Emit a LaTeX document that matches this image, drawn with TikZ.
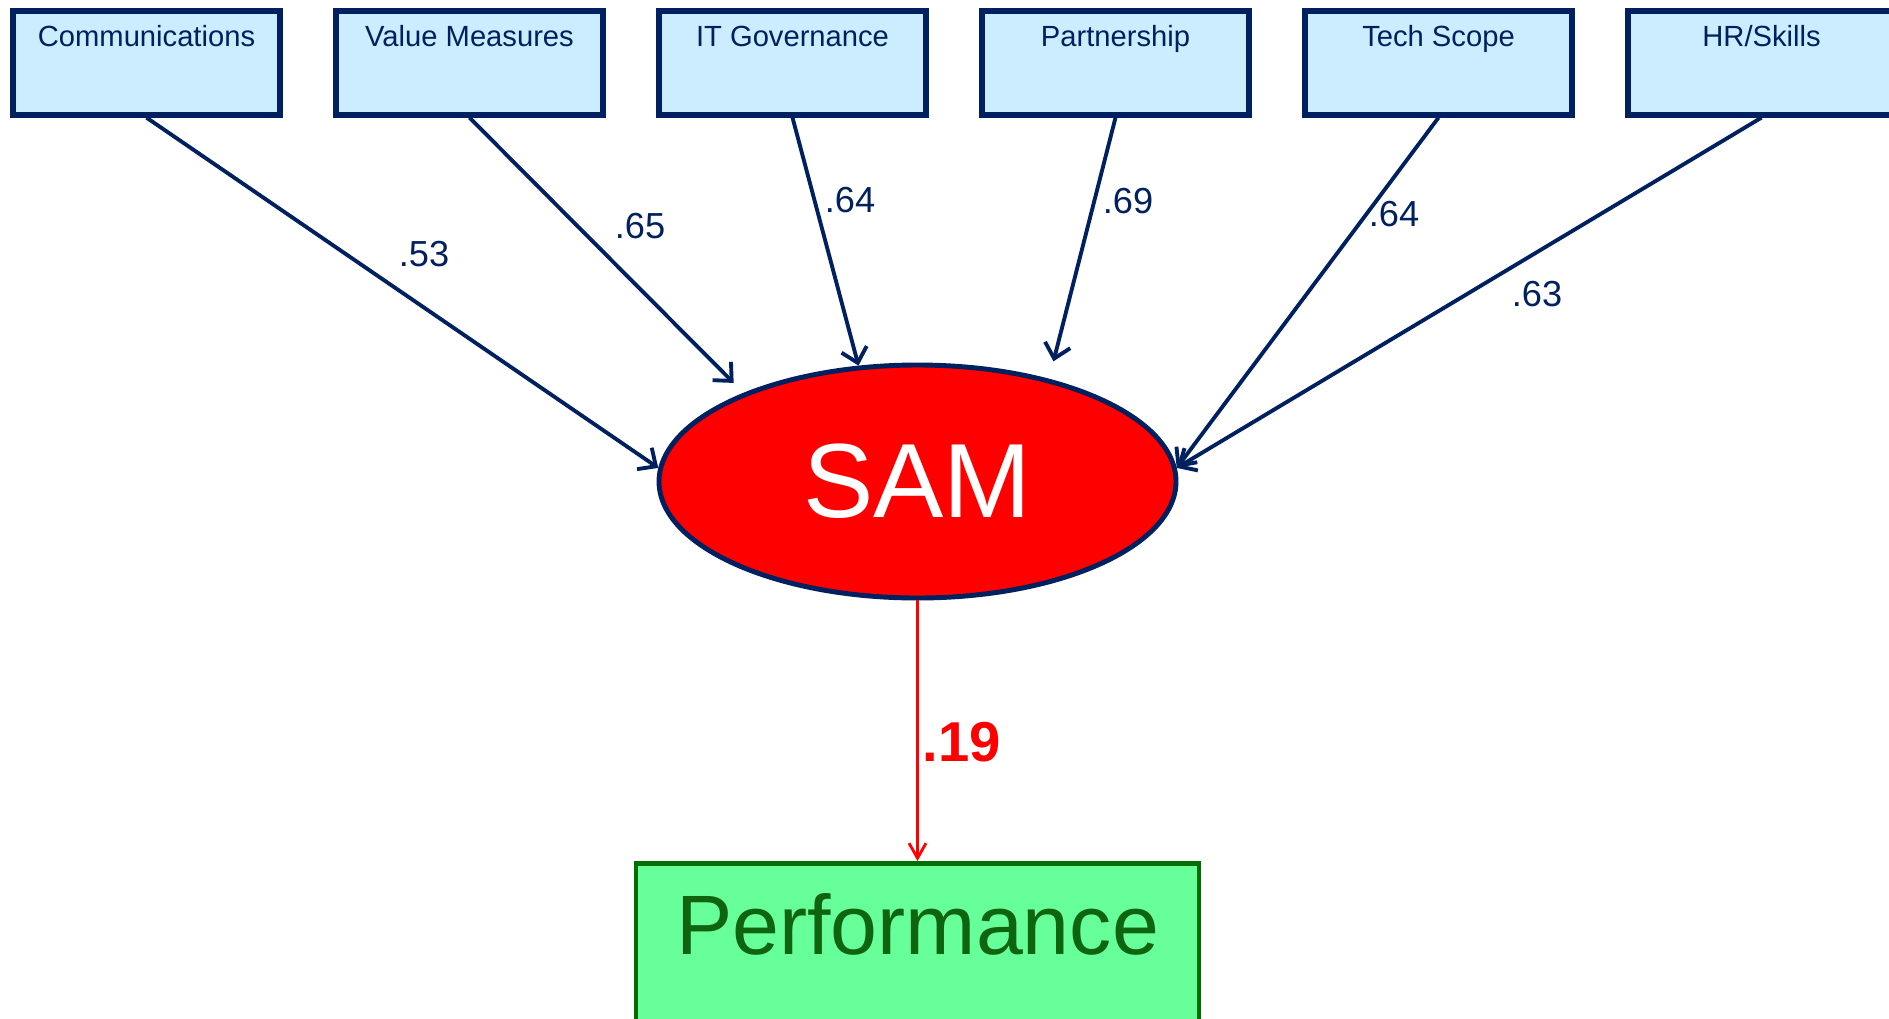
\documentclass[tikz,border=0pt]{standalone}
\usepackage{fontspec}
\setmainfont{Liberation Sans}
\usetikzlibrary{shapes.geometric, arrows.meta}
\definecolor{navy}{RGB}{0, 32, 96}
\definecolor{boxblue}{RGB}{204, 236, 255}
\definecolor{perffill}{RGB}{102, 255, 153}
\definecolor{perfline}{RGB}{0, 110, 0}
\definecolor{perftext}{RGB}{15, 100, 15}
\tikzstyle{factor} = [rectangle, anchor=north, minimum width=2.67cm,
                      text height=0.21cm, text depth=0.53cm, inner ysep=0.15cm,
                      draw=navy, fill=boxblue, text=navy, line width=1.6pt,
                      font=\fontsize{8.3}{10}\selectfont]
\tikzstyle{latent} = [ellipse, minimum width=5.17cm, minimum height=2.33cm,
                      draw=navy, fill=red, text=white, line width=1.4pt,
                      font=\fontsize{30}{36}\selectfont]
\tikzstyle{outcome} = [rectangle, anchor=north, minimum width=5.63cm,
                       text height=0.605cm, text depth=1.5cm, inner ysep=0.31cm,
                       draw=perfline, fill=perffill, text=perftext, line width=1.4pt,
                       font=\fontsize{24}{28}\selectfont]
\tikzstyle{arrow} = [line width=1.1pt, draw=navy, ->,
                     >={Straight Barb[length=1.4mm, width=2.6mm]}]
\tikzstyle{weight} = [text=navy, font=\fontsize{10.3}{12}\selectfont]

\begin{document}
\begin{tikzpicture}
        \useasboundingbox (0, 0) rectangle (18.89, 10.18);

        \node (Comm) [factor] at (1.465, 10.10) {Communications};
        \node (Value) [factor] at (4.695, 10.10) {Value Measures};
        \node (ITGov) [factor] at (7.925, 10.10) {IT Governance};
        \node (Partner) [factor] at (11.155, 10.10) {Partnership};
        \node (Tech) [factor] at (14.385, 10.10) {Tech Scope};
        \node (HR) [factor] at (17.615, 10.10) {HR/Skills};

        \node (SAM) [latent] at (9.175, 5.365) {SAM};

        \node (Perf) [outcome] at (9.175, 1.57) {Performance};

        % paths into SAM
        \draw [arrow] (Comm.south) -- (SAM.177);
        \draw [arrow, shorten >=0.14cm] (Value.south) -- (SAM.153);
        \draw [arrow] (ITGov.south) -- (SAM.117);
        \draw [arrow, shorten >=0.18cm] (Partner.south) -- (SAM.38);
        \draw [arrow] (Tech.south) -- (SAM.3);
        \draw [arrow] (HR.south) -- (SAM.3);

        \node (w53) [weight] at (4.24, 7.64) {.53};
        \node (w65) [weight] at (6.40, 7.92) {.65};
        \node (w64a) [weight] at (8.50, 8.18) {.64};
        \node (w69) [weight] at (11.28, 8.17) {.69};
        \node (w64b) [weight] at (13.94, 8.04) {.64};
        \node (w63) [weight] at (15.37, 7.24) {.63};

        % SAM to performance
        \draw [red, line width=0.8pt, ->, >={Straight Barb[length=1.5mm, width=1.7mm]}]
              (SAM.south) -- (Perf.north);
        \node (w19) [text=red, font=\fontsize{16}{19}\bfseries] at (9.62, 2.76) {.19};

\end{tikzpicture}
\end{document}
